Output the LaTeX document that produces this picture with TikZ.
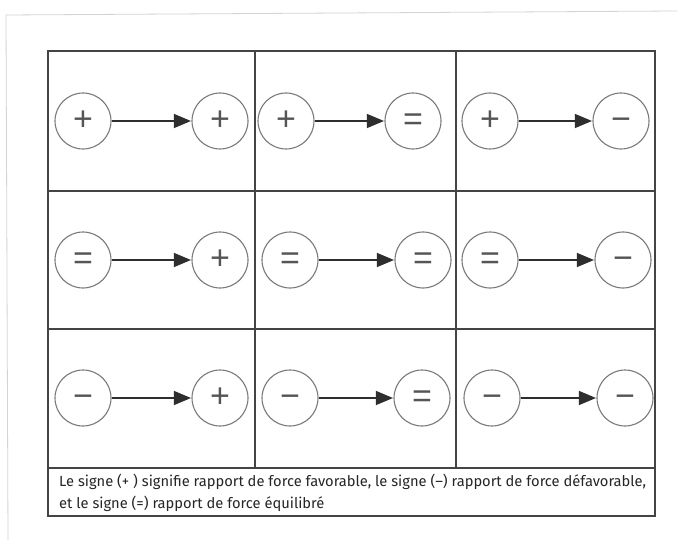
\documentclass[tikz,border=0pt]{standalone}
\usepackage{fontspec}
\usetikzlibrary{arrows.meta}
\setmainfont{Fira Sans}
\newfontfamily\signfont{Liberation Sans}
\newfontfamily\capfont{Fira Sans}

\definecolor{gridcol}{HTML}{444444}
\definecolor{ringcol}{HTML}{7A7A7A}
\definecolor{signcol}{HTML}{555555}
\definecolor{arrowcol}{HTML}{2E2E2E}
\definecolor{textcol}{HTML}{262626}
\definecolor{pagecol}{HTML}{D4D4D4}

\tikzset{
  grid line/.style={draw=gridcol, line width=1.1pt},
  ring/.style={circle, draw=ringcol, line width=1.1pt, minimum size=56pt,
    inner sep=0pt, text=signcol, font=\signfont\fontsize{34}{34}\selectfont,
    execute at begin node=\vphantom{+}},
  shift arrow/.style={draw=arrowcol, line width=1.2pt,
    -{Triangle[length=17pt,width=14pt]}, shorten >=0.5pt},
}

\begin{document}
\begin{tikzpicture}[x=1pt, y=-1pt]
  \useasboundingbox (0,0) rectangle (677,540);
  \fill[white] (0,0) rectangle (677,540);

  % edge of the printed page
  \draw[pagecol, line width=0.8pt] (677,11) -- (6,15) -- (8,540);

  % table frame and grid
  \draw[grid line] (48,51) rectangle (655,516);
  \foreach \yy in {191,329,468} \draw[grid line] (48,\yy) -- (655,\yy);
  \foreach \xx in {255,456} \draw[grid line] (\xx,51) -- (\xx,468);

  % row 1
  \node[ring] (a1) at (83,121)  {+};
  \node[ring] (b1) at (220,121) {+};
  \node[ring] (c1) at (286,121) {+};
  \node[ring] (d1) at (413,121) {=};
  \node[ring] (e1) at (490,121) {+};
  \node[ring] (f1) at (621,121) {−};
  % row 2
  \node[ring] (a2) at (83,260)  {=};
  \node[ring] (b2) at (220,260) {+};
  \node[ring] (c2) at (290,260) {=};
  \node[ring] (d2) at (423,260) {=};
  \node[ring] (e2) at (490,260) {=};
  \node[ring] (f2) at (623,260) {−};
  % row 3
  \node[ring] (a3) at (83,398)  {−};
  \node[ring] (b3) at (220,398) {+};
  \node[ring] (c3) at (290,398) {−};
  \node[ring] (d3) at (422,398) {=};
  \node[ring] (e3) at (492,398) {−};
  \node[ring] (f3) at (625,398) {−};

  \foreach \r in {1,2,3} {
    \draw[shift arrow] (a\r) -- (b\r);
    \draw[shift arrow] (c\r) -- (d\r);
    \draw[shift arrow] (e\r) -- (f\r);
  }

  % legend
  \node[anchor=north west, inner sep=0pt, align=left, text=textcol,
        font=\capfont\fontsize{14.7}{22}\selectfont] (legend) at (59,474)
    {Le signe (+ ) signifie rapport de force favorable, le signe (–) rapport de force défavorable,\\
     et le signe (=) rapport de force équilibré};
\end{tikzpicture}
\end{document}
